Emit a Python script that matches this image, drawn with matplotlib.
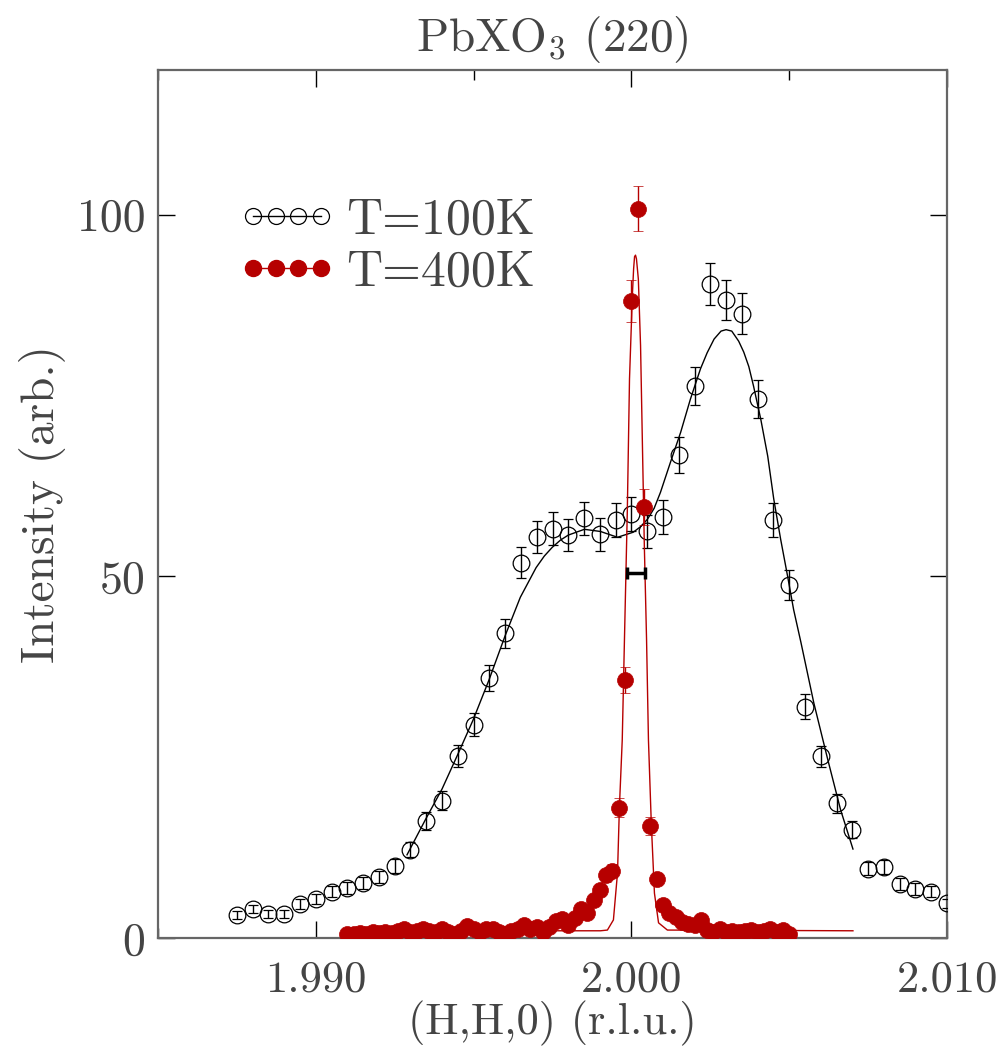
import matplotlib
matplotlib.use("Agg")
import matplotlib.pyplot as plt
from matplotlib.lines import Line2D
from matplotlib.legend_handler import HandlerLine2D
from matplotlib.ticker import FixedLocator, FixedFormatter

plt.rcParams["font.family"] = ["cmr10", "DejaVu Serif"]
plt.rcParams["mathtext.fontset"] = "cm"
plt.rcParams["axes.formatter.use_mathtext"] = True

RED = "#b60000"
TXT = "#444444"

# T=100K scan (open circles)
h_100 = [1.9875, 1.9880, 1.9885, 1.9890, 1.9895, 1.9900, 1.9905, 1.9910, 1.9915, 1.9920,
         1.9925, 1.9930, 1.9935, 1.9940, 1.9945, 1.9950, 1.9955, 1.9960, 1.9965, 1.9970,
         1.9975, 1.9980, 1.9985, 1.9990, 1.9995, 2.0000, 2.0005, 2.0010, 2.0015, 2.0020,
         2.0025, 2.0030, 2.0035, 2.0040, 2.0045, 2.0050, 2.0055, 2.0060, 2.0065, 2.0070,
         2.0075, 2.0080, 2.0085, 2.0090, 2.0095, 2.0100]
i_100 = [3.2, 4.0, 3.3, 3.3, 4.7, 5.4, 6.4, 6.9, 7.6, 8.4,
         10.0, 12.2, 16.2, 19.0, 25.2, 29.5, 36.0, 42.1, 51.9, 55.4,
         56.6, 55.7, 58.0, 55.8, 57.8, 58.6, 56.2, 58.2, 66.8, 76.3,
         90.4, 88.2, 86.3, 74.5, 57.8, 48.8, 32.0, 25.1, 18.6, 15.0,
         9.6, 9.8, 7.5, 6.8, 6.4, 4.8]
e_100 = [0.55, 0.6, 0.55, 0.55, 0.65, 0.7, 0.75, 0.8, 0.8, 0.85,
         0.95, 1.05, 1.2, 1.3, 1.5, 1.6, 1.8, 1.95, 2.15, 2.2,
         2.25, 2.25, 2.3, 2.25, 2.3, 2.3, 2.25, 2.3, 2.45, 2.6,
         2.85, 2.8, 2.8, 2.6, 2.3, 2.1, 1.7, 1.5, 1.3, 1.15,
         0.95, 0.95, 0.8, 0.8, 0.75, 0.65]

# T=100K fit curve
fit_h_100 = [1.99289, 1.99349, 1.99400, 1.99448, 1.99498, 1.99549, 1.99600, 1.99648,
             1.99698, 1.99724, 1.99749, 1.99775, 1.99800, 1.99851, 1.99902, 1.99956,
             2.00006, 2.00030, 2.00051, 2.00072, 2.00092, 2.00124, 2.00156, 2.00187,
             2.00219, 2.00240, 2.00262, 2.00284, 2.00300, 2.00318, 2.00340, 2.00356,
             2.00372, 2.00387, 2.00410, 2.00432, 2.00451, 2.00473, 2.00495, 2.00514,
             2.00537, 2.00578, 2.00622, 2.00663, 2.00702]
fit_i_100 = [11.5, 16.5, 20.6, 25.2, 30.1, 35.7, 41.8, 47.1,
             51.2, 52.8, 54.0, 55.0, 55.7, 56.5, 56.2, 55.4,
             56.1, 56.9, 57.9, 59.4, 61.6, 65.8, 69.9, 74.5,
             78.7, 80.9, 82.8, 83.9, 84.1, 83.9, 82.5, 81.0,
             79.0, 76.3, 71.7, 66.6, 60.7, 55.1, 50.0, 45.4,
             40.9, 32.5, 24.7, 17.7, 12.3]

# T=400K scan (filled circles)
h_400 = [1.9910, 1.9912, 1.9914, 1.9916, 1.9918, 1.9920, 1.9922, 1.9924, 1.9926, 1.9928,
         1.9930, 1.9932, 1.9934, 1.9936, 1.9938, 1.9940, 1.9942, 1.9944, 1.9946, 1.9948,
         1.9950, 1.9952, 1.9954, 1.9956, 1.9958, 1.9960, 1.9962, 1.9964, 1.9966, 1.9968,
         1.9970, 1.9972, 1.9974, 1.9976, 1.9978, 1.9980, 1.9982, 1.9984, 1.9986, 1.9988,
         1.9990, 1.9992, 1.9994, 1.9996, 1.9998, 2.0000, 2.0002, 2.0004, 2.0006, 2.0008,
         2.0010, 2.0012, 2.0014, 2.0016, 2.0018, 2.0020, 2.0022, 2.0024, 2.0026, 2.0028,
         2.0030, 2.0032, 2.0034, 2.0036, 2.0038, 2.0040, 2.0042, 2.0044, 2.0046, 2.0048,
         2.0050]
i_400 = [0.5, 0.6, 0.7, 0.6, 0.8, 0.7, 0.8, 0.7, 1.0, 1.2,
         0.8, 1.0, 1.3, 1.0, 0.9, 1.2, 0.9, 0.6, 1.0, 1.7,
         1.2, 0.9, 1.3, 1.2, 0.9, 0.6, 1.0, 1.3, 1.8, 1.2,
         1.5, 0.9, 1.5, 2.4, 2.6, 1.8, 2.7, 4.0, 3.5, 5.3,
         6.6, 8.7, 9.3, 18.0, 35.7, 88.1, 100.8, 59.6, 15.5, 8.2,
         4.5, 3.4, 2.9, 2.2, 2.0, 1.8, 2.5, 1.1, 0.9, 1.2,
         0.9, 1.0, 0.8, 1.0, 1.1, 0.9, 1.0, 1.2, 0.8, 1.1,
         0.6]
e_400 = [0.2, 0.25, 0.25, 0.25, 0.25, 0.25, 0.25, 0.25, 0.3, 0.3,
         0.25, 0.3, 0.35, 0.3, 0.3, 0.3, 0.3, 0.25, 0.3, 0.4,
         0.3, 0.3, 0.35, 0.3, 0.3, 0.25, 0.3, 0.35, 0.4, 0.3,
         0.35, 0.3, 0.35, 0.45, 0.5, 0.4, 0.5, 0.6, 0.55, 0.7,
         0.8, 0.9, 0.9, 1.3, 1.8, 2.9, 3.1, 2.5, 1.2, 0.85,
         0.65, 0.55, 0.5, 0.45, 0.4, 0.4, 0.45, 0.3, 0.3, 0.35,
         0.3, 0.3, 0.25, 0.3, 0.3, 0.3, 0.3, 0.35, 0.25, 0.3,
         0.25]

# T=400K fit curve
fit_h_400 = [1.99100, 1.99902, 1.99924, 1.99943, 1.99956, 1.99962, 1.99971, 1.99978,
             1.99987, 1.99994, 2.00003, 2.00007, 2.00010, 2.00013, 2.00016, 2.00022,
             2.00029, 2.00035, 2.00041, 2.00048, 2.00054, 2.00063, 2.00073, 2.00086,
             2.00114, 2.00702]
fit_i_400 = [1.0, 1.0, 1.1, 2.5, 9.0, 18.1, 27.4, 41.3,
             58.9, 77.3, 88.8, 92.5, 94.2, 94.4, 93.9, 91.1,
             81.9, 68.0, 54.2, 41.3, 27.4, 15.9, 6.2, 2.1,
             1.1, 1.0]

# instrumental resolution bar
res_h = 2.000145
res_halfwidth = 0.000275
res_i = 50.4

x_ticks = [1.990, 2.000, 2.010]
x_ticklabels = ["1.990", "2.000", "2.010"]
x_minor = [1.985, 1.995, 2.005]
y_ticks = [0, 50, 100]
y_ticklabels = ["0", "50", "100"]

fig = plt.figure(figsize=(10, 10.49), dpi=100)
ax = fig.add_axes([0.158, 0.1058, 0.789, 0.8275])

ax.plot(fit_h_100, fit_i_100, color="k", lw=1.0, zorder=2)
ax.errorbar(h_100, i_100, yerr=e_100, fmt="o", ms=12, mfc="none", mec="k", mew=0.9,
            ecolor="k", elinewidth=1.0, capsize=3.5, capthick=1.0, zorder=3)

ax.plot(fit_h_400, fit_i_400, color=RED, lw=1.0, zorder=4)
ax.errorbar(h_400, i_400, yerr=e_400, fmt="o", ms=11.5, mfc=RED, mec=RED, mew=0.5,
            ecolor=RED, elinewidth=1.0, capsize=3.5, capthick=1.0, zorder=5)

ax.errorbar([res_h], [res_i], xerr=[res_halfwidth], fmt="none", ecolor="k",
            elinewidth=2.5, capsize=4.5, capthick=2.5, zorder=6)

ax.set_xlim(1.985, 2.010)
ax.set_ylim(0, 120)
ax.xaxis.set_major_locator(FixedLocator(x_ticks))
ax.xaxis.set_major_formatter(FixedFormatter(x_ticklabels))
ax.xaxis.set_minor_locator(FixedLocator(x_minor))
ax.yaxis.set_major_locator(FixedLocator(y_ticks))
ax.yaxis.set_major_formatter(FixedFormatter(y_ticklabels))

ax.tick_params(which="both", direction="in", top=True, right=True, color="k", width=1.0)
ax.tick_params(which="major", length=12)
ax.tick_params(which="minor", length=7)
ax.tick_params(axis="x", which="major", labelsize=32, pad=16, labelcolor=TXT)
ax.tick_params(axis="y", which="major", labelsize=33, pad=9, labelcolor=TXT)
for sp in ax.spines.values():
    sp.set_color("#666666")
    sp.set_linewidth(1.6)

ax.set_xlabel("(H,H,0) (r.l.u.)", fontsize=32, color=TXT, labelpad=0)
ax.set_ylabel("Intensity (arb.)", fontsize=34, color=TXT, labelpad=8)
ax.set_title("PbXO$_3$ (220)", fontsize=34, color=TXT, pad=14)

handles = [
    Line2D([], [], color="k", lw=1.0, marker="o", ms=11.5, mfc="none", mec="k", mew=0.9),
    Line2D([], [], color=RED, lw=1.0, marker="o", ms=11.5, mfc=RED, mec=RED),
]
ax.legend(handles, ["T=100K", "T=400K"], loc="upper left",
          bbox_to_anchor=(0.108, 0.853), frameon=False, fontsize=36,
          numpoints=4, handlelength=1.75, handletextpad=0.3, labelspacing=0.12,
          borderaxespad=0, borderpad=0, labelcolor=TXT,
          handler_map={Line2D: HandlerLine2D(marker_pad=0.2)})

fig.savefig("out.png", dpi=100)
